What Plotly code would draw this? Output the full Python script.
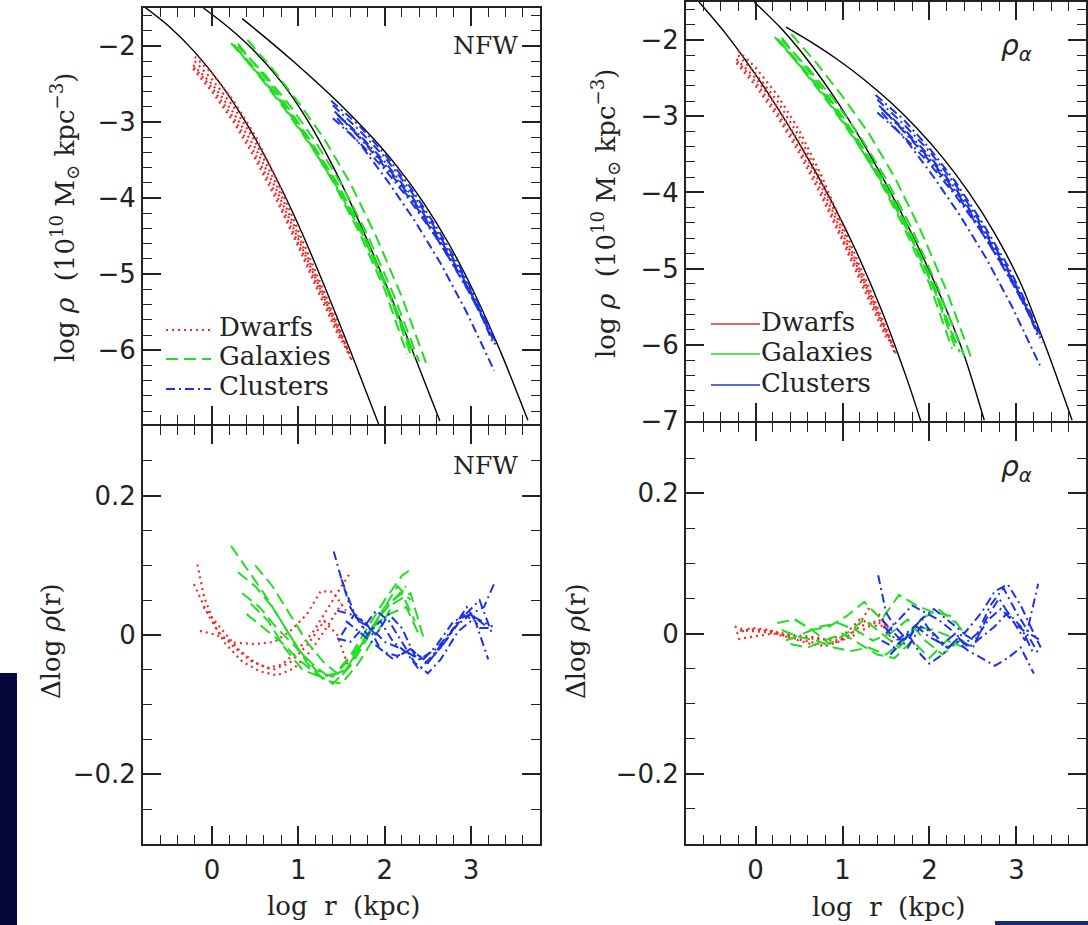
import plotly.graph_objects as go

INK = "#222222"
RED = "#f02828"
GREEN = "#22dd22"
BLUE = "#1e32e6"

X_RANGE = [-0.8, 3.8]
Y_TOP_LEFT = [-6.97, -1.5]
Y_TOP_RIGHT = [-7.0, -1.5]
Y_BOT = [-0.3, 0.3]

# ---------------- fitted profiles (black) ----------------
nfw_dwarf_x = [-0.8, -0.5, -0.2, 0.1, 0.4, 0.7, 1.0, 1.3, 1.6, 1.93]
nfw_dwarf_y = [-1.47, -1.74, -2.08, -2.5, -3.02, -3.64, -4.35, -5.15, -6.0, -6.97]
nfw_gal_x = [-0.1, 0.2, 0.5, 0.8, 1.1, 1.4, 1.7, 2.0, 2.3, 2.64]
nfw_gal_y = [-1.5, -1.764, -2.079, -2.469, -2.964, -3.579, -4.299, -5.094, -5.94, -6.93]
nfw_clu_x = [0.35, 0.65, 0.95, 1.25, 1.55, 1.85, 2.15, 2.45, 2.75, 3.05, 3.35, 3.66]
nfw_clu_y = [-1.64, -1.919, -2.21, -2.516, -2.84, -3.194, -3.593, -4.058, -4.613, -5.273, -6.038, -6.922]

ein_dwarf_x = [-0.65, -0.35, -0.05, 0.25, 0.55, 0.85, 1.15, 1.45, 1.75, 1.9]
ein_dwarf_y = [-1.5, -1.905, -2.37, -2.886, -3.45, -4.065, -4.755, -5.55, -6.48, -7.0]
ein_gal_x = [-0.015, 0.285, 0.585, 0.885, 1.185, 1.485, 1.785, 2.085, 2.385, 2.63]
ein_gal_y = [-1.5, -1.836, -2.241, -2.715, -3.255, -3.855, -4.515, -5.25, -6.09, -6.99]
ein_clu_x = [0.35, 0.65, 0.95, 1.25, 1.55, 1.85, 2.15, 2.45, 2.75, 3.05, 3.35, 3.64]
ein_clu_y = [-1.83, -2.034, -2.262, -2.52, -2.814, -3.15, -3.54, -3.996, -4.536, -5.196, -6.066, -6.99]

# ---------------- simulated halo profiles (top panels) ----------------
dwarf_x = [
    [-0.2, 0.0, 0.25, 0.5, 0.75, 1.0, 1.25, 1.45, 1.63],
    [-0.2, 0.0, 0.25, 0.5, 0.75, 1.0, 1.25, 1.45, 1.6],
    [-0.22, 0.0, 0.25, 0.5, 0.75, 1.0, 1.25, 1.45, 1.58],
    [-0.21, 0.0, 0.25, 0.5, 0.75, 1.0, 1.25, 1.45, 1.6],
    [-0.22, 0.0, 0.25, 0.5, 0.75, 1.0, 1.25, 1.5],
]
dwarf_y = [
    [-2.14, -2.36, -2.72, -3.18, -3.76, -4.43, -5.12, -5.64, -6.16],
    [-2.2, -2.44, -2.8, -3.26, -3.83, -4.49, -5.16, -5.68, -6.08],
    [-2.25, -2.5, -2.88, -3.34, -3.9, -4.54, -5.2, -5.7, -6.02],
    [-2.28, -2.55, -2.95, -3.42, -3.97, -4.6, -5.24, -5.74, -6.1],
    [-2.3, -2.6, -3.0, -3.48, -4.03, -4.64, -5.28, -5.9],
]
galaxy_x = [
    [0.22, 0.5, 0.8, 1.1, 1.4, 1.7, 2.0, 2.26],
    [0.25, 0.5, 0.8, 1.1, 1.4, 1.7, 2.0, 2.3],
    [0.3, 0.55, 0.85, 1.15, 1.45, 1.75, 2.05, 2.35],
    [0.41, 0.7, 1.0, 1.3, 1.6, 1.9, 2.2, 2.49],
    [0.28, 0.55, 0.85, 1.15, 1.45, 1.75, 2.05, 2.3],
    [0.3, 0.6, 0.9, 1.2, 1.5, 1.8, 2.1, 2.4],
]
galaxy_y = [
    [-1.96, -2.32, -2.74, -3.22, -3.78, -4.44, -5.2, -6.05],
    [-1.98, -2.3, -2.72, -3.2, -3.74, -4.38, -5.12, -5.98],
    [-1.97, -2.32, -2.76, -3.26, -3.8, -4.45, -5.22, -6.1],
    [-1.92, -2.3, -2.74, -3.22, -3.8, -4.5, -5.3, -6.2],
    [-2.02, -2.4, -2.84, -3.32, -3.86, -4.5, -5.26, -6.05],
    [-2.0, -2.36, -2.78, -3.26, -3.82, -4.48, -5.26, -6.15],
]
cluster_x = [
    [1.38, 1.7, 2.0, 2.3, 2.6, 2.9, 3.1, 3.28],
    [1.4, 1.7, 2.0, 2.3, 2.6, 2.9, 3.1, 3.25],
    [1.42, 1.7, 2.0, 2.3, 2.6, 2.9, 3.1, 3.26],
    [1.45, 1.75, 2.05, 2.35, 2.65, 2.95, 3.15, 3.3],
    [1.4, 1.7, 2.0, 2.3, 2.6, 2.9, 3.1, 3.22],
    [1.45, 1.75, 2.05, 2.35, 2.65, 2.95, 3.27],
    [1.5, 1.8, 2.1, 2.4, 2.7, 3.0, 3.2],
]
cluster_y = [
    [-2.72, -3.04, -3.42, -3.86, -4.38, -4.96, -5.42, -5.88],
    [-2.78, -3.1, -3.46, -3.9, -4.42, -5.0, -5.46, -5.84],
    [-2.86, -3.16, -3.52, -3.95, -4.46, -5.03, -5.48, -5.92],
    [-2.9, -3.24, -3.62, -4.06, -4.58, -5.15, -5.6, -5.97],
    [-2.95, -3.26, -3.62, -4.04, -4.52, -5.07, -5.5, -5.78],
    [-2.95, -3.34, -3.8, -4.3, -4.86, -5.5, -6.27],
    [-2.95, -3.32, -3.72, -4.17, -4.7, -5.28, -5.72],
]

# ---------------- residuals w.r.t. NFW (bottom left) ----------------
nfw_res_dwarf_x = [
    [-0.17, -0.09, 0.06, 0.26, 0.45, 0.64, 0.8, 0.95, 1.18, 1.34, 1.49, 1.59],
    [-0.21, -0.05, 0.15, 0.35, 0.55, 0.75, 0.95, 1.15, 1.35, 1.5],
    [-0.14, 0.05, 0.26, 0.5, 0.72, 0.9, 1.1, 1.26, 1.4, 1.55],
    [-0.1, 0.1, 0.3, 0.5, 0.7, 0.9, 1.1, 1.3, 1.45, 1.57],
]
nfw_res_dwarf_y = [
    [0.101, 0.054, 0.006, -0.018, -0.037, -0.047, -0.043, -0.028, 0.006, 0.039, 0.068, 0.087],
    [0.073, 0.03, -0.012, -0.038, -0.052, -0.058, -0.048, -0.022, 0.015, 0.045],
    [0.006, 0.0, -0.011, -0.013, -0.01, 0.005, 0.03, 0.063, 0.062, 0.035],
    [0.04, 0.01, -0.02, -0.04, -0.05, -0.04, -0.015, 0.02, 0.0, -0.042],
]
nfw_res_gal_x = [
    [0.22, 0.4, 0.6, 0.8, 1.0, 1.2, 1.4, 1.6, 1.8, 2.0, 2.2, 2.3],
    [0.3, 0.5, 0.7, 0.9, 1.1, 1.3, 1.5, 1.7, 1.9, 2.1, 2.3, 2.45],
    [0.35, 0.55, 0.75, 0.95, 1.15, 1.35, 1.55, 1.75, 1.95, 2.15, 2.3],
    [0.4, 0.6, 0.8, 1.0, 1.2, 1.4, 1.6, 1.8, 2.0, 2.2, 2.35],
    [0.5, 0.7, 0.9, 1.1, 1.3, 1.5, 1.7, 1.9, 2.1, 2.25],
    [0.45, 0.65, 0.85, 1.05, 1.25, 1.45, 1.65, 1.85, 2.05, 2.25, 2.4],
]
nfw_res_gal_y = [
    [0.128, 0.095, 0.06, 0.02, -0.02, -0.05, -0.06, -0.03, 0.01, 0.05, 0.085, 0.094],
    [0.09, 0.07, 0.04, 0.0, -0.04, -0.065, -0.07, -0.04, 0.0, 0.045, 0.06, -0.004],
    [0.06, 0.04, 0.01, -0.015, -0.04, -0.06, -0.05, -0.01, 0.03, 0.07, 0.05],
    [0.03, 0.01, -0.01, -0.035, -0.055, -0.07, -0.045, -0.005, 0.04, 0.06, 0.02],
    [0.1, 0.07, 0.03, -0.01, -0.04, -0.06, -0.02, 0.02, 0.05, 0.07],
    [0.045, 0.02, -0.02, -0.05, -0.06, -0.055, -0.025, 0.01, 0.03, 0.04, 0.0],
]
nfw_res_clu_x = [
    [1.41, 1.5, 1.6, 1.7, 1.85, 2.0, 2.2, 2.4, 2.6, 2.8, 3.0, 3.15, 3.28],
    [1.45, 1.6, 1.75, 1.9, 2.05, 2.2, 2.35, 2.5, 2.7, 2.9, 3.05, 3.2],
    [1.5, 1.65, 1.8, 1.95, 2.1, 2.25, 2.4, 2.55, 2.75, 2.95, 3.1, 3.25],
    [1.45, 1.6, 1.75, 1.9, 2.05, 2.2, 2.35, 2.5, 2.65, 2.85, 3.05, 3.25],
    [1.55, 1.7, 1.85, 2.0, 2.15, 2.3, 2.45, 2.6, 2.8, 3.0, 3.2],
    [1.5, 1.65, 1.8, 1.95, 2.1, 2.3, 2.5, 2.7, 2.9, 3.1, 3.25],
]
nfw_res_clu_y = [
    [0.12, 0.08, 0.04, 0.02, 0.01, -0.01, -0.02, -0.035, -0.02, 0.01, 0.03, 0.04, 0.077],
    [0.035, 0.03, 0.02, 0.0, 0.03, 0.01, -0.03, -0.04, -0.01, 0.03, 0.02, -0.035],
    [0.08, 0.03, 0.0, 0.02, -0.01, -0.025, -0.05, -0.03, 0.0, 0.04, 0.01, 0.01],
    [-0.005, -0.01, 0.01, 0.035, 0.02, -0.01, -0.04, -0.055, -0.035, 0.005, 0.025, 0.012],
    [0.02, 0.005, -0.01, -0.025, -0.03, -0.02, -0.035, -0.015, 0.02, 0.03, 0.01],
    [0.0, 0.03, 0.015, -0.02, -0.035, -0.02, -0.04, -0.01, 0.025, 0.05, 0.0],
]

# ---------------- residuals w.r.t. Einasto (bottom right) ----------------
ein_res_dwarf_x = [
    [-0.24, -0.1, 0.1, 0.3, 0.5, 0.7, 0.9, 1.1, 1.3, 1.45, 1.55],
    [-0.22, -0.05, 0.15, 0.35, 0.55, 0.75, 0.95, 1.15, 1.3, 1.45, 1.58],
    [-0.2, 0.0, 0.2, 0.4, 0.6, 0.8, 1.0, 1.2, 1.4, 1.55],
    [-0.18, 0.0, 0.2, 0.4, 0.6, 0.8, 1.0, 1.2, 1.4, 1.5],
]
ein_res_dwarf_y = [
    [0.01, 0.004, 0.002, -0.002, -0.005, -0.008, -0.01, -0.005, 0.01, 0.02, 0.005],
    [0.0, 0.008, 0.005, -0.004, -0.01, -0.015, -0.012, 0.005, 0.035, 0.025, -0.015],
    [-0.008, -0.004, 0.0, -0.006, -0.014, -0.018, -0.01, 0.01, 0.018, 0.0],
    [0.004, 0.006, 0.003, -0.002, -0.004, -0.008, -0.004, 0.02, 0.01, 0.012],
]
ein_res_gal_x = [
    [0.25, 0.45, 0.65, 0.85, 1.05, 1.25, 1.45, 1.65, 1.85, 2.05, 2.25, 2.4],
    [0.3, 0.5, 0.7, 0.9, 1.1, 1.3, 1.5, 1.7, 1.9, 2.1, 2.3],
    [0.35, 0.55, 0.75, 0.95, 1.15, 1.35, 1.55, 1.75, 1.95, 2.15, 2.35],
    [0.4, 0.6, 0.8, 1.0, 1.2, 1.4, 1.6, 1.8, 2.0, 2.2, 2.4],
    [0.45, 0.65, 0.85, 1.05, 1.25, 1.45, 1.65, 1.85, 2.05, 2.25],
]
ein_res_gal_y = [
    [0.015, 0.02, 0.005, 0.01, 0.025, 0.045, 0.02, 0.055, 0.04, 0.03, 0.025, 0.0],
    [0.005, -0.005, -0.01, -0.02, -0.025, -0.02, -0.03, -0.01, 0.02, 0.035, 0.015],
    [-0.01, 0.0, 0.01, 0.015, 0.005, -0.01, 0.0, 0.02, -0.01, -0.03, -0.01],
    [-0.015, -0.02, -0.01, 0.0, -0.015, -0.03, -0.035, -0.01, -0.035, -0.01, -0.02],
    [0.02, 0.005, -0.015, 0.0, 0.02, 0.0, -0.02, 0.01, 0.005, -0.005],
]
ein_res_clu_x = [
    [1.41, 1.5, 1.6, 1.75, 1.9, 2.05, 2.2, 2.4, 2.6, 2.75, 2.9, 3.05, 3.2, 3.28],
    [1.45, 1.6, 1.75, 1.9, 2.05, 2.2, 2.35, 2.5, 2.65, 2.8, 2.95, 3.1, 3.25],
    [1.45, 1.6, 1.75, 1.9, 2.0, 2.15, 2.3, 2.45, 2.6, 2.75, 2.9, 3.05, 3.2],
    [1.5, 1.65, 1.8, 1.95, 2.1, 2.25, 2.4, 2.55, 2.7, 2.85, 3.0, 3.15, 3.28],
    [1.55, 1.7, 1.85, 2.0, 2.15, 2.3, 2.45, 2.6, 2.75, 2.9, 3.05, 3.2],
    [1.48, 1.62, 1.78, 1.92, 2.08, 2.22, 2.38, 2.52, 2.68, 2.82, 2.98, 3.12, 3.26],
]
ein_res_clu_y = [
    [0.083, 0.03, 0.01, -0.01, 0.02, 0.035, 0.02, 0.0, 0.03, 0.06, 0.07, 0.04, 0.0, -0.02],
    [0.02, 0.0, -0.02, 0.01, 0.0, -0.02, -0.01, -0.02, 0.02, 0.05, 0.02, -0.01, 0.071],
    [-0.01, -0.02, 0.0, -0.03, -0.043, -0.03, -0.01, -0.025, -0.035, -0.046, -0.035, -0.02, -0.057],
    [0.0, 0.02, 0.04, 0.03, 0.02, 0.005, -0.015, 0.0, 0.04, 0.065, 0.03, 0.0, -0.01],
    [-0.03, -0.01, 0.01, -0.005, -0.015, 0.0, -0.02, -0.005, 0.01, 0.03, 0.01, -0.03],
    [0.01, -0.01, 0.005, 0.02, -0.01, -0.02, 0.0, -0.01, 0.02, 0.035, 0.015, 0.0, -0.03],
]

legend_names = ["Dwarfs", "Galaxies", "Clusters"]

# ---------------- figure ----------------
W, H = 1088, 925
H_EFF = 910.0   # the page is photographed slightly compressed vertically
fig = go.Figure()

DOT = "2px,4px"
DASH = "12px,6px"
DASHDOT = "9px,4px,2px,4px"


def add_group(xs_list, ys_list, color, dash, xa, ya, width=2.0):
    for xs, ys in zip(xs_list, ys_list):
        fig.add_trace(go.Scatter(x=xs, y=ys, mode="lines", xaxis=xa, yaxis=ya,
                                 line=dict(color=color, dash=dash, width=width),
                                 showlegend=False, hoverinfo="skip"))


def add_fit(xs, ys, xa, ya):
    fig.add_trace(go.Scatter(x=xs, y=ys, mode="lines", xaxis=xa, yaxis=ya,
                             line=dict(color="black", width=1.4, shape="spline", smoothing=0.8),
                             showlegend=False, hoverinfo="skip"))


for fx, fy in [(nfw_dwarf_x, nfw_dwarf_y), (nfw_gal_x, nfw_gal_y), (nfw_clu_x, nfw_clu_y)]:
    add_fit(fx, fy, "x", "y")
add_group(dwarf_x, dwarf_y, RED, DOT, "x", "y", 2.2)
add_group(galaxy_x, galaxy_y, GREEN, DASH, "x", "y")
add_group(cluster_x, cluster_y, BLUE, DASHDOT, "x", "y")

add_group(nfw_res_dwarf_x, nfw_res_dwarf_y, RED, DOT, "x2", "y2", 2.2)
add_group(nfw_res_gal_x, nfw_res_gal_y, GREEN, DASH, "x2", "y2")
add_group(nfw_res_clu_x, nfw_res_clu_y, BLUE, DASHDOT, "x2", "y2")

for fx, fy in [(ein_dwarf_x, ein_dwarf_y), (ein_gal_x, ein_gal_y), (ein_clu_x, ein_clu_y)]:
    add_fit(fx, fy, "x3", "y3")
add_group(dwarf_x, dwarf_y, RED, DOT, "x3", "y3", 2.2)
add_group(galaxy_x, galaxy_y, GREEN, DASH, "x3", "y3")
add_group(cluster_x, cluster_y, BLUE, DASHDOT, "x3", "y3")

add_group(ein_res_dwarf_x, ein_res_dwarf_y, RED, DOT, "x4", "y4", 2.2)
add_group(ein_res_gal_x, ein_res_gal_y, GREEN, DASH, "x4", "y4")
add_group(ein_res_clu_x, ein_res_clu_y, BLUE, DASHDOT, "x4", "y4")


def px_x(p):
    return p / W


def px_y(p):
    return 1 - p / H_EFF


TICKFONT = dict(family="DejaVu Sans", size=26, color=INK)


def axis(domain, anchor, rng, dtick, minor_dtick, labels, standoff=None):
    d = dict(domain=domain, anchor=anchor, range=rng,
             tickmode="linear", tick0=0, dtick=dtick,
             ticks="inside", ticklen=18, tickwidth=1.5, tickcolor=INK,
             minor=dict(tickmode="linear", tick0=0, dtick=minor_dtick, ticks="inside",
                        ticklen=9, tickwidth=1.3, tickcolor=INK, showgrid=False),
             showline=True, linewidth=2, linecolor=INK, mirror="ticks",
             showgrid=False, zeroline=False, showticklabels=labels,
             tickfont=TICKFONT)
    if standoff is not None:
        d["ticklabelstandoff"] = standoff
    return d


XL = [px_x(143), px_x(540)]
XR = [px_x(686), px_x(1086)]
fig.update_layout(
    xaxis=axis(XL, "y", X_RANGE, 1, 0.2, False),
    yaxis=axis([px_y(424), px_y(8)], "x", Y_TOP_LEFT, 1, 0.2, True),
    xaxis2=axis(XL, "y2", X_RANGE, 1, 0.2, True, standoff=2),
    yaxis2=axis([px_y(844), px_y(426)], "x2", Y_BOT, 0.2, 0.05, True),
    xaxis3=axis(XR, "y3", X_RANGE, 1, 0.2, False),
    yaxis3=axis([px_y(421), px_y(2)], "x3", Y_TOP_RIGHT, 1, 0.2, True),
    xaxis4=axis(XR, "y4", X_RANGE, 1, 0.2, True, standoff=2),
    yaxis4=axis([px_y(844), px_y(423)], "x4", Y_BOT, 0.2, 0.05, True),
)

SERIF = "DejaVu Serif"
annotations = []


def note(text, x, y, size=26, family=SERIF, angle=0, xanchor="center"):
    annotations.append(dict(text=text, x=px_x(x), y=px_y(y), xref="paper", yref="paper",
                            showarrow=False, textangle=angle, xanchor=xanchor, yanchor="middle",
                            font=dict(family=family, size=size, color=INK)))


NB = "\u00a0"
ytitle_top = f"log{NB}<i>ρ</i>{NB}{NB}(10<sup>10</sup>{NB}M<sub>⊙</sub>{NB}kpc<sup>−3</sup>)"
ytitle_bot = f"Δlog{NB}<i>ρ</i>(r)"
xtitle = f"log{NB}{NB}r{NB}{NB}(kpc)"

note(ytitle_top, 64, 218, angle=-90)
note(ytitle_bot, 51, 641, angle=-90)
note(ytitle_top, 605, 214, angle=-90)
note(ytitle_bot, 576, 641, angle=-90)
note(xtitle, 343, 906)
note(xtitle, 888, 907)

note("NFW", 485, 45, size=25)
note("NFW", 485, 466, size=25)
note("<i>ρ</i><sub><i>α</i></sub>", 1016, 47, size=28, family="DejaVu Sans")
note("<i>ρ</i><sub><i>α</i></sub>", 1016, 469, size=28, family="DejaVu Sans")

shapes = []
left_rows = [330, 359, 389]
for name, yrow, color, dash in zip(legend_names, left_rows, [RED, GREEN, BLUE], [DOT, DASH, DASHDOT]):
    shapes.append(dict(type="line", xref="paper", yref="paper", x0=px_x(166), x1=px_x(211),
                       y0=px_y(yrow), y1=px_y(yrow), line=dict(color=color, dash=dash, width=2)))
    note(name, 217, yrow - 3, size=26, xanchor="left")
right_rows = [324, 354, 385]
for name, yrow, color in zip(legend_names, right_rows, [RED, GREEN, BLUE]):
    shapes.append(dict(type="line", xref="paper", yref="paper", x0=px_x(711), x1=px_x(760),
                       y0=px_y(yrow), y1=px_y(yrow), line=dict(color=color, width=1.6)))
    note(name, 759, yrow - 2, size=26, xanchor="left")

shapes.append(dict(type="rect", xref="paper", yref="paper", x0=0, x1=px_x(17), y0=px_y(940), y1=px_y(673),
                   line=dict(width=0), fillcolor="#05083a", layer="below"))
shapes.append(dict(type="rect", xref="paper", yref="paper", x0=px_x(995), x1=1, y0=px_y(940), y1=px_y(921),
                   line=dict(width=0), fillcolor="#1a2a7a", layer="below"))

fig.update_layout(width=W, height=H, margin=dict(l=0, r=0, t=0, b=0),
                  paper_bgcolor="white", plot_bgcolor="white", showlegend=False,
                  annotations=annotations, shapes=shapes)

fig.write_html("out.html")
